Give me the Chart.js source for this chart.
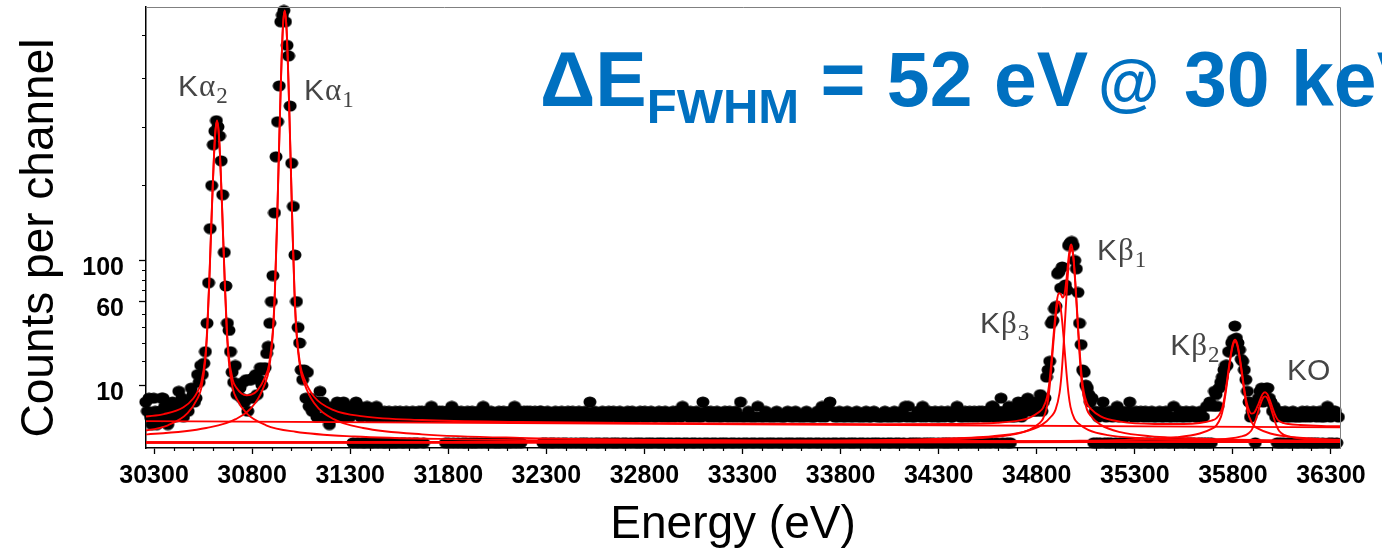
<!DOCTYPE html>
<html>
<head>
<meta charset="utf-8">
<title>Counts per channel</title>
<script src="https://cdn.jsdelivr.net/npm/chart.js@4.4.1/dist/chart.umd.min.js"></script>
<style>
  html, body { margin: 0; padding: 0; background: #fff; }
  #spectrum { display: block; }
</style>
</head>
<body>
<canvas id="spectrum" width="1382" height="556"></canvas>
<script>
// Spectrum channels: 8 eV wide, first one at 30258 eV
const channelStart = 30258;
const channelWidth = 8;

// Counts per channel, K-alpha region (30258 - 31290 eV)
const countsKAlpha = [
    5, 3, 6, 2, 1, 6, 3, 1, 2, 3,
    6, 6, 4, 2, 1, 3, 2, 5, 4, 2,
    3, 8, 4, 6, 2, 3, 4, 3, 5, 9,
    7, 5, 6, 14, 11, 18, 14, 19, 25, 43,
    77, 138, 199, 267, 292, 312, 300, 283, 239, 185,
    109, 74, 43, 38, 25, 15, 11, 18, 7, 9,
    9, 6, 11, 5, 12, 3, 12, 12, 6, 13,
    14, 7, 12, 17, 10, 16, 17, 24, 28, 43,
    60, 84, 159, 246, 310, 383, 533, 550, 562, 533,
    475, 450, 341, 235, 168, 106, 60, 40, 30, 16,
    12, 16, 6, 15, 4, 6, 3, 3, 5, 2,
    5, 8, 4, 5, 2, 4, 3, 1, 3, 2,
    4, 3, 5, 2, 4, 3, 5, 2, 4, 3
];

// Counts per channel, flat part (31298 - 34690 eV)
const countsFlat = [
    2, 4, 0, 3, 5, 0, 4, 2, 0, 3,
    0, 4, 2, 0, 3, 0, 2, 4, 0, 3,
    2, 0, 3, 0, 2, 3, 0, 2, 0, 3,
    0, 2, 3, 0, 2, 0, 3, 2, 0, 2,
    3, 0, 2, 0, 3, 2, 3, 0, 2, 3,
    2, 3, 4, 3, 2, 3, 2, 3, 2, 3,
    2, 0, 3, 0, 2, 4, 0, 2, 3, 0,
    2, 3, 0, 2, 0, 3, 2, 0, 3, 0,
    2, 0, 3, 2, 0, 4, 3, 0, 2, 0,
    3, 2, 0, 2, 0, 3, 0, 2, 3, 0,
    2, 0, 3, 0, 2, 4, 0, 2, 3, 0,
    2, 3, 2, 3, 2, 3, 2, 2, 3, 2,
    2, 3, 3, 0, 2, 0, 3, 2, 0, 2,
    0, 3, 2, 0, 2, 3, 0, 2, 0, 3,
    2, 0, 3, 2, 0, 2, 3, 0, 2, 0,
    3, 0, 2, 5, 0, 2, 3, 0, 2, 0,
    2, 3, 0, 2, 0, 3, 2, 0, 3, 0,
    2, 0, 3, 2, 0, 2, 0, 3, 2, 0,
    3, 2, 0, 2, 0, 3, 0, 2, 3, 0,
    2, 0, 3, 0, 2, 2, 0, 3, 0, 2,
    0, 3, 2, 0, 2, 0, 3, 2, 0, 3,
    0, 2, 4, 0, 3, 0, 2, 3, 0, 2,
    0, 3, 2, 0, 2, 5, 0, 3, 0, 2,
    3, 0, 2, 0, 3, 2, 0, 2, 0, 3,
    0, 2, 3, 0, 2, 0, 3, 2, 0, 5,
    2, 0, 2, 0, 3, 2, 0, 2, 0, 2,
    4, 0, 2, 0, 2, 3, 0, 2, 0, 2,
    0, 2, 3, 0, 2, 0, 2, 2, 0, 3,
    0, 2, 0, 2, 3, 0, 2, 0, 2, 0,
    2, 3, 0, 2, 0, 2, 2, 0, 3, 0,
    2, 4, 0, 2, 3, 0, 5, 3, 0, 2,
    0, 2, 3, 0, 2, 0, 2, 3, 0, 2,
    0, 2, 0, 3, 2, 0, 2, 0, 2, 3,
    0, 2, 2, 0, 3, 0, 2, 0, 2, 2,
    0, 3, 2, 0, 2, 0, 2, 3, 0, 2,
    0, 2, 3, 0, 4, 2, 4, 0, 2, 0,
    2, 0, 3, 0, 2, 4, 0, 2, 0, 3,
    0, 2, 0, 3, 2, 0, 2, 3, 0, 2,
    0, 3, 0, 2, 2, 0, 3, 4, 0, 2,
    0, 2, 3, 0, 2, 3, 0, 2, 3, 0,
    2, 3, 0, 3, 2, 0, 3, 2, 0, 4,
    4, 2, 0, 3, 2, 6, 0, 3, 2, 0,
    4, 0, 2, 3, 2
];

// Counts per channel, K-beta / KO region (34698 - 36338 eV)
const countsKBeta = [
    3, 5, 4, 2, 5, 3, 4, 6, 3, 4,
    4, 3, 5, 3, 4, 7, 3, 5, 6, 13,
    16, 20, 43, 45, 54, 56, 86, 88, 72, 93,
    72, 75, 70, 117, 120, 122, 117, 100, 91, 68,
    43, 29, 16, 15, 10, 9, 7, 5, 6, 0,
    3, 0, 2, 0, 3, 5, 0, 2, 0, 3,
    0, 2, 3, 0, 4, 2, 0, 3, 0, 2,
    0, 3, 5, 0, 2, 0, 3, 2, 0, 3,
    0, 2, 3, 0, 2, 0, 3, 2, 0, 2,
    0, 3, 2, 0, 2, 3, 0, 2, 0, 2,
    4, 0, 2, 0, 3, 2, 0, 2, 3, 0,
    2, 0, 3, 0, 2, 2, 0, 3, 0, 2,
    0, 4, 0, 5, 0, 4, 8, 7, 4, 9,
    11, 13, 16, 18, 18, 25, 25, 30, 32, 41,
    33, 30, 26, 21, 20, 16, 12, 8, 5, 2,
    3, 3, 0, 5, 6, 8, 9, 5, 8, 9,
    9, 6, 5, 3, 4, 2, 0, 3, 0, 2,
    0, 3, 2, 0, 2, 0, 3, 2, 0, 2,
    0, 2, 3, 0, 2, 3, 0, 2, 0, 3,
    0, 2, 0, 3, 2, 0, 2, 3, 4, 0,
    2, 0, 3, 3, 0, 2
];

// Axis ticks
const xTickValues = [30300, 30800, 31300, 31800, 32300, 32800, 33300, 33800, 34300, 34800, 35300, 35800, 36300];
const yTickValues = [10, 60, 100];
const yMinorTickValues = [20, 30, 40, 50, 70, 80, 90, 200, 300, 400, 500];

// Fit curves as [energy eV, counts]
const fitTotal = [
    [30259, 2.08], [30350, 2.49], [30450, 3.81], [30500, 5.91], [30521, 7.82], [30540, 10.8],
    [30561, 22.2], [30571, 39.3], [30581, 76.5], [30591, 137.0], [30601, 212.9], [30611, 284.3],
    [30621, 312.2], [30631, 284.4], [30641, 213.1], [30651, 137.3], [30661, 76.8], [30671, 39.7],
    [30681, 22.7], [30701, 11.9], [30721, 9.03], [30746, 7.34], [30771, 6.81], [30796, 6.97],
    [30826, 8.19], [30866, 12.98], [30886, 18.4], [30906, 38.5], [30916, 69.2], [30926, 136.4],
    [30936, 245.6], [30946, 382.7], [30956, 511.5], [30966, 561.9], [30976, 511.5], [30986, 382.6],
    [30996, 245.4], [31006, 136.2], [31016, 69.0], [31026, 38.1], [31046, 17.95], [31066, 12.3],
    [31116, 6.38], [31216, 3.21], [31366, 2.11], [31666, 1.56], [32166, 1.31], [33000, 1.15],
    [34000, 1.05], [34400, 1.07], [34600, 1.21], [34712, 1.51], [34762, 1.89], [34812, 2.84],
    [34832, 3.68], [34852, 6.2], [34862, 9.76], [34872, 17.3], [34882, 29.4], [34892, 44.8],
    [34902, 59.7], [34912, 67.2], [34922, 66.7], [34932, 63.4], [34942, 66.9], [34952, 81.4],
    [34962, 102.3], [34969, 113.9], [34976, 118.2], [34983, 111.6], [34990, 97.0], [35000, 68.5],
    [35010, 42.0], [35020, 23.6], [35030, 12.9], [35040, 7.86], [35056, 4.75], [35076, 3.47],
    [35126, 2.1], [35226, 1.35], [35400, 1.07], [35550, 1.06], [35631, 1.18], [35691, 1.49],
    [35715, 1.8], [35739, 2.91], [35751, 4.61], [35763, 8.33], [35775, 14.4], [35787, 22.0],
    [35799, 29.1], [35811, 31.9], [35823, 29.1], [35835, 22.1], [35847, 14.5], [35859, 8.44],
    [35871, 4.76], [35883, 3.14], [35895, 2.57], [35907, 2.68], [35919, 3.42], [35928, 4.29],
    [35940, 5.77], [35952, 7.18], [35964, 7.7], [35976, 7.07], [35988, 5.53], [36000, 3.91],
    [36012, 2.61], [36024, 1.8], [36036, 1.42], [36060, 1.16], [36084, 1.06], [36144, 0.96],
    [36250, 0.86], [36346, 0.82]
];
const fitBackground = [[30259, 1.42], [36346, 0.72]];
const fitKa2 = [
    [30221, 0.369], [30371, 0.93], [30471, 2.64], [30521, 5.89], [30541, 9.0], [30561, 20.2],
    [30571, 37.2], [30581, 74.4], [30586, 102.3], [30591, 134.9], [30596, 172.1], [30601, 210.8],
    [30606, 249.6], [30611, 282.1], [30616, 302.3], [30621, 310], [30626, 302.3], [30631, 282.1],
    [30636, 249.6], [30641, 210.8], [30646, 172.1], [30651, 134.9], [30656, 102.3], [30661, 74.4],
    [30671, 37.2], [30681, 20.2], [30701, 9.0], [30721, 5.89], [30771, 2.64], [30871, 0.93],
    [31021, 0.369], [31321, 0.121], [31821, 0.041], [33121, 0.0094], [35621, 0.0024], [36621, 0.0016]
];
const fitKa1 = [
    [29766, 0.0739], [30266, 0.218], [30566, 0.666], [30716, 1.68], [30816, 4.76], [30866, 10.64],
    [30886, 16.24], [30906, 36.4], [30916, 67.2], [30926, 134.4], [30931, 184.8], [30936, 243.6],
    [30941, 310.8], [30946, 380.8], [30951, 450.8], [30956, 509.6], [30961, 546], [30966, 560],
    [30971, 546], [30976, 509.6], [30981, 450.8], [30986, 380.8], [30991, 310.8], [30996, 243.6],
    [31001, 184.8], [31006, 134.4], [31016, 67.2], [31026, 36.4], [31046, 16.24], [31066, 10.64],
    [31116, 4.76], [31216, 1.68], [31366, 0.666], [31666, 0.218], [32166, 0.0739], [33466, 0.017],
    [35966, 0.00426], [36966, 0.00297]
];
const fitKb3 = [
    [29912, 0.000456], [32412, 0.00182], [33712, 0.00792], [34212, 0.0234], [34512, 0.0714],
    [34662, 0.18], [34762, 0.51], [34812, 1.14], [34832, 1.74], [34852, 3.9], [34862, 7.2],
    [34872, 14.4], [34877, 19.8], [34882, 26.1], [34887, 33.3], [34892, 40.8], [34897, 48.3],
    [34902, 54.6], [34907, 58.5], [34912, 60], [34917, 58.5], [34922, 54.6], [34927, 48.3],
    [34932, 40.8], [34937, 33.3], [34942, 26.1], [34947, 19.8], [34952, 14.4], [34962, 7.2],
    [34972, 3.9], [34992, 1.74], [35012, 1.14], [35062, 0.51], [35162, 0.18], [35312, 0.0714],
    [35612, 0.0234], [36112, 0.00792], [37412, 0.00182]
];
const fitKb1 = [
    [29976, 0.000866], [32476, 0.00347], [33776, 0.015], [34276, 0.0445], [34576, 0.136],
    [34726, 0.342], [34826, 0.969], [34876, 2.17], [34896, 3.31], [34916, 7.41], [34926, 13.7],
    [34936, 27.4], [34941, 37.6], [34946, 49.6], [34951, 63.3], [34956, 77.5], [34961, 91.8],
    [34966, 103.7], [34971, 111.2], [34976, 114], [34981, 111.2], [34986, 103.7], [34991, 91.8],
    [34996, 77.5], [35001, 63.3], [35006, 49.6], [35011, 37.6], [35016, 27.4], [35026, 13.7],
    [35036, 7.41], [35056, 3.31], [35076, 2.17], [35126, 0.969], [35226, 0.342], [35376, 0.136],
    [35676, 0.0445], [36176, 0.015], [37476, 0.00347]
];
const fitKb2 = [
    [29811, 0.000236], [32811, 0.000942], [34371, 0.00409], [34971, 0.0121], [35331, 0.0369],
    [35511, 0.093], [35631, 0.264], [35691, 0.589], [35715, 0.9], [35739, 2.02], [35751, 3.72],
    [35763, 7.44], [35769, 10.2], [35775, 13.5], [35781, 17.2], [35787, 21.1], [35793, 25.0],
    [35799, 28.2], [35805, 30.2], [35811, 31], [35817, 30.2], [35823, 28.2], [35829, 25.0],
    [35835, 21.1], [35841, 17.2], [35847, 13.5], [35853, 10.2], [35859, 7.44], [35871, 3.72],
    [35883, 2.02], [35907, 0.9], [35931, 0.589], [35991, 0.264], [36111, 0.093], [36291, 0.0369],
    [36651, 0.0121]
];
const fitKO = [
    [29964, 0.00005], [32964, 0.0002], [34524, 0.00086], [35124, 0.0025], [35484, 0.0077],
    [35664, 0.0195], [35784, 0.055], [35844, 0.124], [35868, 0.19], [35892, 0.42], [35904, 0.78],
    [35916, 1.56], [35922, 2.15], [35928, 2.83], [35934, 3.61], [35940, 4.42], [35946, 5.23],
    [35952, 5.92], [35958, 6.34], [35964, 6.5], [35970, 6.34], [35976, 5.92], [35982, 5.23],
    [35988, 4.42], [35994, 3.61], [36000, 2.83], [36006, 2.15], [36012, 1.56], [36024, 0.78],
    [36036, 0.42], [36060, 0.19], [36084, 0.124], [36144, 0.055], [36264, 0.0195], [36444, 0.0077]
];

// Peak names, anchored at (energy, counts) of the text baseline start
const peakLabels = [
    { name: 'K', greek: 'α', sub: '2', energy: 30422, counts: 362 },
    { name: 'K', greek: 'α', sub: '1', energy: 31065, counts: 354 },
    { name: 'K', greek: 'β', sub: '3', energy: 34511, counts: 36 },
    { name: 'K', greek: 'β', sub: '1', energy: 35107, counts: 100 },
    { name: 'K', greek: 'β', sub: '2', energy: 35480, counts: 23.1 },
    { name: 'KO', greek: '', sub: '', energy: 36076, counts: 11.8 }
];

// Square-root value axis (the counts axis of the original plot)
const signedRoot = v => Math.sign(v) * Math.sqrt(Math.abs(v));

class SqrtScale extends Chart.LinearScale {
    static id = 'sqrt';
    static defaults = {};

    configure() {
        super.configure();
        this._rootMin = signedRoot(this.min);
        this._rootRange = signedRoot(this.max) - this._rootMin;
    }

    getPixelForValue(value) {
        return this.getPixelForDecimal((signedRoot(value) - this._rootMin) / this._rootRange);
    }

    getValueForPixel(pixel) {
        const r = this._rootMin + this.getDecimalForPixel(pixel) * this._rootRange;
        return Math.sign(r) * r * r;
    }
}
Chart.register(SqrtScale);

// Black oval marker for the measured points
const dot = document.createElement('canvas');
dot.width = 14;
dot.height = 12;
const dotCtx = dot.getContext('2d');
dotCtx.fillStyle = '#000';
dotCtx.beginPath();
dotCtx.ellipse(7, 6, 6.5, 5.5, 0, 0, Math.PI * 2);
dotCtx.fill();

const spectrum = countsKAlpha.concat(countsFlat, countsKBeta)
    .map((c, i) => ({ x: channelStart + i * channelWidth, y: c }));

function fitDataset(points) {
    return {
        type: 'line',
        data: points.map(p => ({ x: p[0], y: p[1] })),
        borderColor: '#ff0000',
        borderWidth: 1.9,
        pointRadius: 0,
        fill: false,
        cubicInterpolationMode: 'monotone',
        order: 0
    };
}

// Minor ticks on both axes
const minorTicks = {
    id: 'minorTicks',
    afterDraw(chart) {
        const { ctx, scales: { x, y } } = chart;
        ctx.save();
        ctx.strokeStyle = '#000';
        ctx.lineWidth = 1.2;
        ctx.beginPath();
        for (let v = xTickValues[0]; v <= xTickValues[xTickValues.length - 1]; v += 100) {
            if (xTickValues.includes(v)) continue;
            const px = Math.round(x.getPixelForValue(v)) + 0.5;
            ctx.moveTo(px, y.bottom);
            ctx.lineTo(px, y.bottom + 3);
        }
        yMinorTickValues.forEach(v => {
            const py = Math.round(y.getPixelForValue(v)) + 0.5;
            ctx.moveTo(x.left, py);
            ctx.lineTo(x.left - 4, py);
        });
        ctx.stroke();
        ctx.restore();
    }
};

// Grey frame on top and right
const frame = {
    id: 'frame',
    afterDatasetsDraw(chart) {
        const { ctx, chartArea: a } = chart;
        ctx.save();
        ctx.strokeStyle = '#808080';
        ctx.lineWidth = 1;
        ctx.beginPath();
        ctx.moveTo(a.left, a.top + 0.5);
        ctx.lineTo(a.right + 0.5, a.top + 0.5);
        ctx.lineTo(a.right + 0.5, a.bottom);
        ctx.stroke();
        ctx.restore();
    }
};

// Axis titles
const axisTitles = {
    id: 'axisTitles',
    afterDraw(chart) {
        const ctx = chart.ctx;
        ctx.save();
        ctx.fillStyle = '#000';
        ctx.font = '46px "Liberation Sans", Arial, sans-serif';
        ctx.textAlign = 'center';
        ctx.textBaseline = 'alphabetic';
        ctx.fillText('Energy (eV)', 733, 538);
        ctx.translate(53, 238);
        ctx.rotate(-Math.PI / 2);
        ctx.fillText('Counts per channel', 0, 0);
        ctx.restore();
    }
};

// Peak names
const peakNames = {
    id: 'peakNames',
    afterDatasetsDraw(chart) {
        const { ctx, scales: { x, y } } = chart;
        ctx.save();
        ctx.fillStyle = '#454545';
        ctx.textBaseline = 'alphabetic';
        peakLabels.forEach(l => {
            let px = x.getPixelForValue(l.energy);
            const py = y.getPixelForValue(l.counts);
            ctx.font = '30px "Liberation Sans", Arial, sans-serif';
            ctx.fillText(l.name, px, py);
            px += ctx.measureText(l.name).width + 1;
            if (l.greek) {
                ctx.font = '31px "Liberation Serif", serif';
                ctx.fillText(l.greek, px, py);
                px += ctx.measureText(l.greek).width + 1;
            }
            if (l.sub) {
                ctx.font = '23px "Liberation Serif", serif';
                ctx.fillText(l.sub, px, py + 7);
            }
        });
        ctx.restore();
    }
};

// Blue resolution headline
const headline = {
    id: 'headline',
    afterDraw(chart) {
        const ctx = chart.ctx;
        ctx.save();
        ctx.fillStyle = '#0070c0';
        ctx.textBaseline = 'alphabetic';
        ctx.font = 'bold 77px "Liberation Sans", Arial, sans-serif';
        let x = 540;
        ctx.fillText('ΔE', x, 106);
        x += ctx.measureText('ΔE').width;
        ctx.font = 'bold 49px "Liberation Sans", Arial, sans-serif';
        ctx.fillText('FWHM', x, 123);
        x += ctx.measureText('FWHM').width;
        ctx.font = 'bold 77px "Liberation Sans", Arial, sans-serif';
        ctx.fillText(' = 52 eV', x, 106);
        ctx.font = 'bold 63px "Liberation Sans", Arial, sans-serif';
        ctx.fillText('@', 1098, 104);
        ctx.font = 'bold 77px "Liberation Sans", Arial, sans-serif';
        ctx.fillText('30 keV', 1184, 106);
        ctx.restore();
    }
};

const tickFont = { family: '"Liberation Sans", Arial, sans-serif', size: 25, weight: 'bold' };

new Chart(document.getElementById('spectrum'), {
    type: 'scatter',
    data: {
        datasets: [
            fitDataset(fitTotal),
            fitDataset(fitBackground),
            fitDataset(fitKa2),
            fitDataset(fitKa1),
            fitDataset(fitKb3),
            fitDataset(fitKb1),
            fitDataset(fitKb2),
            fitDataset(fitKO),
            {
                label: 'Counts',
                data: spectrum,
                pointStyle: dot,
                pointRadius: 6,
                showLine: false,
                clip: false,
                order: 1
            }
        ]
    },
    options: {
        responsive: false,
        animation: false,
        devicePixelRatio: 1,
        events: [],
        layout: { padding: { top: 6, right: 42, bottom: 0, left: 0 } },
        plugins: {
            legend: { display: false },
            tooltip: { enabled: false }
        },
        scales: {
            x: {
                type: 'linear',
                bounds: 'data',
                min: 30259,
                max: 36346,
                afterFit: scale => {
                    scale.height = 108;
                    scale.paddingLeft = 0;
                    scale.paddingRight = 0;
                },
                afterBuildTicks: axis => { axis.ticks = xTickValues.map(v => ({ value: v })); },
                grid: { drawOnChartArea: false, tickLength: 6, tickColor: '#000', tickWidth: 1.3 },
                border: { color: '#000', width: 1.5 },
                ticks: {
                    autoSkip: false,
                    maxRotation: 0,
                    padding: 7,
                    color: '#000',
                    font: tickFont,
                    callback: v => String(v)
                }
            },
            y: {
                type: 'sqrt',
                bounds: 'data',
                min: -0.08,
                max: 571,
                afterFit: scale => {
                    scale.width = 146;
                    scale.paddingTop = 0;
                    scale.paddingBottom = 0;
                },
                afterBuildTicks: axis => { axis.ticks = yTickValues.map(v => ({ value: v })); },
                grid: { drawOnChartArea: false, tickLength: 7, tickColor: '#000', tickWidth: 1.3 },
                border: { color: '#000', width: 1.5 },
                ticks: {
                    padding: 15,
                    labelOffset: 8,
                    color: '#000',
                    font: tickFont,
                    callback: v => String(v)
                }
            }
        }
    },
    plugins: [minorTicks, frame, peakNames, axisTitles, headline]
});
</script>
</body>
</html>
